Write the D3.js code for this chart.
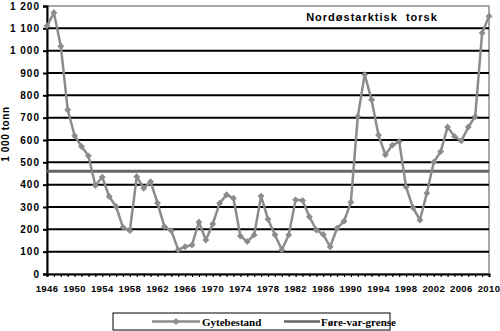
<!DOCTYPE html>
<html lang="no">
<head>
<meta charset="UTF-8">
<title>Nordøstarktisk torsk</title>
<script src="https://d3js.org/d3.v7.min.js"></script>
<style>
    body { margin: 0; background: #fff; }
    svg { display: block; }
    .lbl { font-family: "Liberation Sans", Arial, sans-serif; font-weight: bold; font-size: 9px; fill: #000; }
    .xlbl { font-family: "Liberation Sans", Arial, sans-serif; font-weight: bold; font-size: 9.5px; letter-spacing: 0.4px; fill: #000; }
    .ylbl { font-family: "Liberation Sans", Arial, sans-serif; font-weight: bold; font-size: 10px; letter-spacing: 1px; fill: #000; }
    .leg { font-family: "Liberation Serif", "Times New Roman", serif; font-weight: bold; font-size: 11px; fill: #000; }
</style>
</head>
<body>
<div id="chart"></div>
<script>
// Gytebestand, 1 000 tonn
const years = d3.range(1946, 2011);
const spawningStock = [
    1110, 1170, 1020, 735, 619, 571, 529, 396, 434, 347,
    302, 209, 194, 436, 384, 413, 318, 212, 194, 108,
    122, 130, 232, 152, 224, 317, 355, 339, 170, 145,
    175, 349, 245, 176, 108, 175, 332, 329, 256, 197,
    177, 122, 205, 236, 321, 705, 893, 780, 622, 534,
    577, 593, 389, 297, 242, 362, 501, 548, 658, 616,
    596, 658, 705, 1079, 1154
];
const precautionLevel = 460;   // Føre-var-grense
const yTicks = d3.range(0, 1201, 100);
const xLabelYears = d3.range(1946, 2011, 4);
const seriesNames = ["Gytebestand", "Føre-var-grense"];

const width = 500, height = 331;
const margin = { top: 6, right: 11, bottom: 57, left: 47 };

const svg = d3.select("#chart").append("svg")
    .attr("width", width)
    .attr("height", height);

const x = d3.scaleLinear()
    .domain([1946, 2010])
    .range([margin.left, width - margin.right]);

const y = d3.scaleLinear()
    .domain([0, 1200])
    .range([height - margin.bottom, margin.top]);

const fmt = d3.formatLocale({ thousands: " ", grouping: [3], decimal: ",", currency: ["", ""] }).format(",");

// plot area border (top/right grey)
svg.append("rect")
    .attr("x", x(1946))
    .attr("y", y(1200))
    .attr("width", x(2010) - x(1946))
    .attr("height", y(0) - y(1200))
    .attr("fill", "none")
    .attr("stroke", "#8c8c8c")
    .attr("stroke-width", 1.5);

// gridlines
svg.append("g")
    .selectAll("line")
    .data(yTicks.filter(d => d > 0 && d < 1200))
    .join("line")
    .attr("x1", x(1946))
    .attr("x2", x(2010))
    .attr("y1", d => y(d))
    .attr("y2", d => y(d))
    .attr("stroke", "#000")
    .attr("stroke-width", 2);

// y axis
const yAxis = svg.append("g")
    .attr("transform", `translate(${x(1946)},0)`)
    .call(d3.axisLeft(y).tickValues(yTicks).tickSize(4).tickPadding(3).tickFormat(fmt));
yAxis.select(".domain").attr("stroke", "#000").attr("stroke-width", 2);
yAxis.selectAll(".tick line").attr("stroke", "#000").attr("stroke-width", 2);
yAxis.selectAll("text").attr("class", "ylbl").attr("font-size", null).attr("font-family", null);

// x axis
const xAxis = svg.append("g")
    .attr("transform", `translate(0,${y(0)})`)
    .call(d3.axisBottom(x).tickValues(years).tickSize(3).tickFormat(""));
xAxis.select(".domain").attr("stroke", "#000").attr("stroke-width", 2);
xAxis.selectAll(".tick line").attr("stroke", "#000").attr("stroke-width", 1.2);

svg.append("g")
    .selectAll("text")
    .data(xLabelYears)
    .join("text")
    .attr("class", "xlbl")
    .attr("x", d => x(d))
    .attr("y", y(0) + 18)
    .attr("text-anchor", "middle")
    .text(d => d);

// y title
svg.append("text")
    .attr("class", "ylbl")
    .attr("transform", "translate(9,134) rotate(-90)")
    .attr("text-anchor", "middle")
    .style("letter-spacing", "0.6px")
    .text("1 000 tonn");

// Føre-var-grense
svg.append("line")
    .attr("x1", x(1946))
    .attr("x2", x(2010))
    .attr("y1", y(precautionLevel))
    .attr("y2", y(precautionLevel))
    .attr("stroke", "#666")
    .attr("stroke-width", 3);

// Gytebestand
const line = d3.line()
    .x((d, i) => x(years[i]))
    .y(d => y(d));

svg.append("path")
    .datum(spawningStock)
    .attr("d", line)
    .attr("fill", "none")
    .attr("stroke", "#8c8c8c")
    .attr("stroke-width", 2.5);

const diamond = d3.symbol().type(d3.symbolDiamond2).size(30);
svg.append("g")
    .selectAll("path")
    .data(spawningStock)
    .join("path")
    .attr("d", diamond)
    .attr("transform", (d, i) => `translate(${x(years[i])},${y(d)})`)
    .attr("fill", "#8c8c8c");

// title
svg.append("text")
    .attr("class", "lbl")
    .attr("x", 372)
    .attr("y", 21)
    .attr("text-anchor", "middle")
    .style("font-size", "11px")
    .style("letter-spacing", "1px")
    .attr("xml:space", "preserve")
    .text("Nordøstarktisk  torsk");

// legend
const legend = svg.append("g");
legend.append("rect")
    .attr("x", 113)
    .attr("y", 313)
    .attr("width", 277)
    .attr("height", 17)
    .attr("fill", "#fff")
    .attr("stroke", "#000")
    .attr("stroke-width", 1);

legend.append("line")
    .attr("x1", 152).attr("x2", 200)
    .attr("y1", 321.5).attr("y2", 321.5)
    .attr("stroke", "#8c8c8c").attr("stroke-width", 2.5);
legend.append("path")
    .attr("d", diamond)
    .attr("transform", "translate(176,321.5)")
    .attr("fill", "#8c8c8c");
legend.append("text")
    .attr("class", "leg")
    .attr("x", 202).attr("y", 325.5)
    .text(seriesNames[0]);

legend.append("line")
    .attr("x1", 284).attr("x2", 320)
    .attr("y1", 321.5).attr("y2", 321.5)
    .attr("stroke", "#666").attr("stroke-width", 2.5);
legend.append("text")
    .attr("class", "leg")
    .attr("x", 321).attr("y", 325.5)
    .text(seriesNames[1]);
</script>
</body>
</html>
